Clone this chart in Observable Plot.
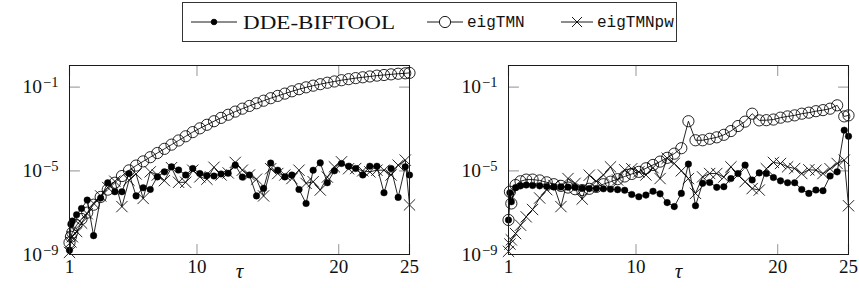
<!DOCTYPE html>
<html><head><meta charset="utf-8">
<script src="https://cdn.jsdelivr.net/npm/d3@7"></script>
<script src="https://cdn.jsdelivr.net/npm/@observablehq/plot@0.6"></script>
<style>
body{margin:0;background:#fff;}
#wrap{position:relative;width:859px;height:288px;overflow:hidden;}
#legend{position:absolute;left:0;top:0;}
#left{position:absolute;left:0;top:45px;}
#right{position:absolute;left:430px;top:45px;}
</style></head><body>
<div id="wrap"><svg id="legend" width="859" height="45"></svg><div id="left"></div><div id="right"></div></div>
<script>
// sample positions (tau)
const tau = [1, 1.1, 1.2, 1.5, 1.85, 2.25, 2.7, 3.2, 3.7, 4.2, 4.7, 5.2, 5.7, 6.2, 6.7, 7.2, 7.7, 8.2, 8.7, 9.2, 9.7, 10.2, 10.7, 11.2, 11.7, 12.2, 12.7, 13.2, 13.7, 14.2, 14.7, 15.2, 15.7, 16.2, 16.7, 17.2, 17.7, 18.2, 18.7, 19.2, 19.7, 20.2, 20.7, 21.2, 21.7, 22.2, 22.7, 23.2, 23.7, 24.2, 24.7, 25];
const seriesNames = ["DDE-BIFTOOL", "eigTMN", "eigTMNpw"];
const xTicks = [1, 10, 20, 25];
const yTicks = [1e-1, 1e-5, 1e-9];
const xLabel = "τ";

// values as log10
const leftDDE = [-8.8, -7.55, -7.4, -7.1, -6.8, -6.4, -8.1, -6.3, -5.57, -6.0, -6.0, -5.13, -6.2, -5.81, -5.89, -5.29, -5.05, -4.81, -4.96, -5.2, -4.89, -5.13, -5.23, -5.25, -5.15, -5.12, -4.73, -5.3, -5.2, -6.2, -5.84, -4.63, -4.97, -5.29, -5.2, -5.89, -6.56, -4.97, -4.62, -5.57, -5.0, -4.65, -4.78, -4.89, -5.2, -4.78, -4.78, -6.05, -4.89, -6.27, -4.81, -5.2];
const leftTMN = [-8.43, -8.15, -7.95, -7.6, -7.3, -7.0, -6.62, -6.25, -5.9, -5.57, -5.25, -4.98, -4.75, -4.55, -4.35, -4.15, -3.95, -3.75, -3.55, -3.35, -3.15, -2.97, -2.8, -2.63, -2.47, -2.32, -2.17, -2.03, -1.9, -1.77, -1.65, -1.53, -1.42, -1.31, -1.2, -1.1, -1.01, -0.93, -0.86, -0.79, -0.73, -0.67, -0.62, -0.57, -0.53, -0.49, -0.45, -0.42, -0.39, -0.36, -0.34, -0.32];
const leftPW = [-8.9, -8.4, -8.15, -7.9, -7.5, -7.05, -6.55, -6.2, -5.8, -5.5, -6.71, -5.45, -5.15, -6.32, -5.05, -5.2, -5.47, -4.85, -5.55, -5.55, -4.97, -5.29, -5.4, -4.83, -5.2, -5.1, -4.6, -4.97, -5.2, -5.4, -6.2, -4.9, -5.13, -5.2, -5.37, -4.97, -5.6, -5.52, -5.92, -5.3, -4.81, -4.57, -4.9, -4.89, -5.0, -5.05, -4.97, -4.97, -5.2, -4.73, -4.49, -6.63];
const rightDDE = [-7.35, -6.05, -6.48, -5.8, -5.72, -5.68, -5.7, -5.72, -5.75, -5.77, -5.77, -5.78, -5.8, -5.84, -5.85, -5.85, -5.86, -5.88, -5.9, -5.93, -6.13, -6.24, -6.16, -5.98, -6.1, -6.52, -6.71, -6.08, -4.68, -6.67, -5.6, -5.56, -5.79, -5.76, -5.37, -5.13, -4.73, -5.44, -5.1, -5.13, -5.32, -5.48, -5.57, -5.57, -5.89, -6.08, -5.92, -5.95, -5.25, -5.05, -3.06, -3.35];
const rightTMN = [-7.35, -6.0, -6.56, -5.68, -5.5, -5.42, -5.42, -5.46, -5.55, -5.64, -5.72, -5.8, -5.88, -5.92, -5.86, -5.77, -5.64, -5.52, -5.4, -5.27, -5.15, -5.05, -4.88, -4.72, -4.56, -4.38, -4.18, -3.92, -2.63, -3.54, -3.54, -3.47, -3.4, -3.28, -3.1, -2.86, -2.65, -2.27, -2.59, -2.58, -2.55, -2.46, -2.4, -2.35, -2.27, -2.22, -2.15, -2.1, -2.03, -1.87, -2.4, -2.35];
const rightPW = [-8.85, -8.5, -8.3, -8.0, -7.6, -7.2, -6.85, -6.3, -5.9, -5.7, -6.71, -5.37, -5.6, -6.35, -5.21, -5.5, -5.2, -4.81, -5.44, -4.95, -4.9, -5.05, -5.2, -4.85, -5.37, -4.4, -4.65, -5.0, -5.37, -6.08, -5.29, -5.13, -5.13, -5.3, -4.81, -5.2, -5.52, -5.85, -5.92, -4.9, -4.6, -4.65, -4.81, -4.89, -5.13, -4.95, -4.97, -5.13, -4.9, -4.65, -4.49, -6.67];

const SERIF = "'Liberation Serif', 'DejaVu Serif', serif";
const MONO = "'Liberation Mono', 'DejaVu Sans Mono', monospace";
const tickShape = {draw(ctx, l) { ctx.moveTo(0, 0); ctx.lineTo(0, -l); }};
const TICK = {stroke: "#a6a6a6", strokeWidth: 1.2, length: 10, shape: tickShape, anchor: "start"};

function rows(logs, name) {
  return tau.map((t, i) => ({tau: t, value: Math.pow(10, logs[i]), series: name}));
}

function panel(el, dde, tmn, pw, width, marginLeft, marginRight) {
  const a = rows(dde, seriesNames[0]), b = rows(tmn, seriesNames[1]), c = rows(pw, seriesNames[2]);
  const line = {x: "tau", y: "value", stroke: "#000", strokeWidth: 0.85};
  const plot = Plot.plot({
    width, height: 243, marginTop: 20, marginBottom: 34, marginLeft, marginRight,
    style: {fontFamily: SERIF, fontSize: "19px", color: "#111", background: "transparent", overflow: "visible"},
    x: {domain: [1, 25], label: null},
    y: {type: "log", domain: [1e-9, 1.08], label: null},
    marks: [
      Plot.vector(xTicks, {x: d => d, frameAnchor: "bottom", rotate: 0, ...TICK}),
      Plot.vector(xTicks, {x: d => d, frameAnchor: "top", rotate: 180, ...TICK}),
      Plot.vector(yTicks, {y: d => d, frameAnchor: "left", rotate: 90, ...TICK}),
      Plot.vector(yTicks, {y: d => d, frameAnchor: "right", rotate: -90, ...TICK}),
      Plot.line(a, line),
      Plot.dot(a, {x: "tau", y: "value", r: 3.3, fill: "#000", stroke: "#000", strokeWidth: 0.4}),
      Plot.line(b, line),
      Plot.dot(b, {x: "tau", y: "value", r: 5.6, fill: "none", stroke: "#000", strokeWidth: 0.85}),
      Plot.line(c, line),
      Plot.dot(c, {x: "tau", y: "value", symbol: "times", r: 5.2, stroke: "#000", strokeWidth: 0.85}),
      Plot.frame({stroke: "#1a1a1a", strokeWidth: 1}),
      Plot.axisX(xTicks, {tickSize: 0, tickPadding: 5, tickFormat: d => String(d), fontSize: 19, label: null}),
      Plot.axisY(yTicks, {tickSize: 0, tickPadding: 11, tickFormat: d => String(Math.round(Math.log10(d))), fontSize: 19.5, label: null}),
      Plot.text([xLabel], {frameAnchor: "bottom", dy: 23, fontStyle: "italic", fontSize: 21, fill: "#111"})
    ]
  });
  const ns = "http://www.w3.org/2000/svg";
  plot.querySelectorAll('g[aria-label="y-axis tick label"] text').forEach(t => {
    const e = Math.abs(parseInt(t.textContent, 10));
    t.textContent = "";
    const base = document.createElementNS(ns, "tspan");
    base.textContent = "10";
    const sup = document.createElementNS(ns, "tspan");
    sup.textContent = "\u2212" + e;
    sup.setAttribute("dy", "-0.42em");
    sup.setAttribute("dx", "1");
    sup.setAttribute("font-size", "14.5px");
    t.append(base, sup);
  });
  el.appendChild(plot);
}

panel(document.getElementById("left"), leftDDE, leftTMN, leftPW, 430, 69, 21);
panel(document.getElementById("right"), rightDDE, rightTMN, rightPW, 429, 78, 11);

// legend
(function () {
  const svg = d3.select("#legend");
  svg.append("rect").attr("x", 182.5).attr("y", 2.5).attr("width", 494).attr("height", 39)
    .attr("fill", "none").attr("stroke", "#333").attr("stroke-width", 1);
  const cy = 22;
  const g = svg.append("g").attr("stroke", "#000").attr("stroke-width", 0.9);
  // DDE-BIFTOOL
  g.append("line").attr("x1", 191).attr("x2", 237).attr("y1", cy).attr("y2", cy);
  g.append("circle").attr("cx", 214).attr("cy", cy).attr("r", 2.8).attr("fill", "#000");
  // eigTMN
  g.append("line").attr("x1", 427).attr("x2", 439).attr("y1", cy).attr("y2", cy);
  g.append("line").attr("x1", 451).attr("x2", 463).attr("y1", cy).attr("y2", cy);
  g.append("circle").attr("cx", 445).attr("cy", cy).attr("r", 5.6).attr("fill", "none");
  // eigTMNpw
  g.append("line").attr("x1", 561).attr("x2", 593).attr("y1", cy).attr("y2", cy);
  g.append("path").attr("d", `M572,${cy - 5}L582,${cy + 5}M572,${cy + 5}L582,${cy - 5}`).attr("fill", "none");
  svg.append("text").attr("x", 243).attr("y", cy + 6.5).attr("font-family", SERIF).attr("font-size", 19.5)
    .attr("textLength", 152).attr("lengthAdjust", "spacingAndGlyphs").attr("fill", "#111").text(seriesNames[0]);
  svg.append("text").attr("x", 467).attr("y", cy + 5).attr("font-family", MONO).attr("font-size", 16)
    .attr("fill", "#111").text(seriesNames[1]);
  svg.append("text").attr("x", 597).attr("y", cy + 5).attr("font-family", MONO).attr("font-size", 16)
    .attr("fill", "#111").text(seriesNames[2]);
})();
</script>
</body></html>
